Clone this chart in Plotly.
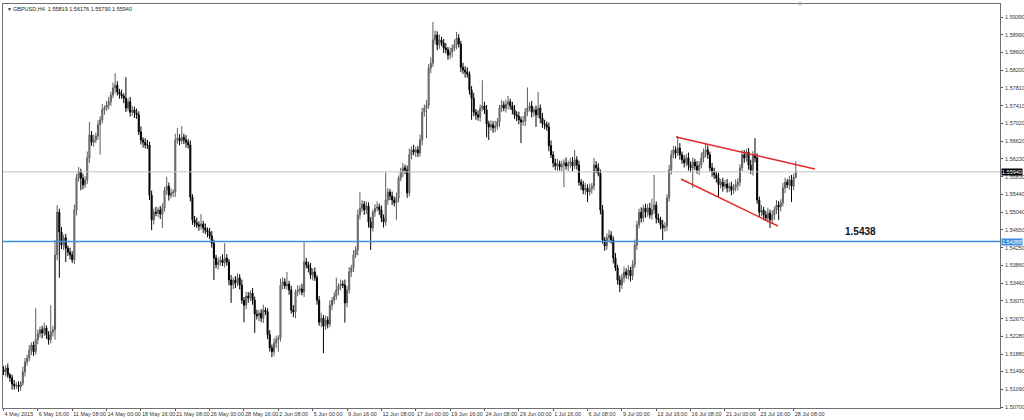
import plotly.graph_objects as go

# ---------------- data (GBPUSD H4) ----------------
first_open = 1.5153
close = [
 1.5148, 1.5157, 1.5141, 1.5135, 1.5121, 1.5117, 1.5119, 1.5115, 1.5123, 1.5148,
 1.5170, 1.5179, 1.5197, 1.5208, 1.5193, 1.5220, 1.5233, 1.5242, 1.5235, 1.5246,
 1.5231, 1.5220, 1.5237, 1.5242, 1.5409, 1.5504, 1.5460, 1.5431, 1.5447, 1.5424,
 1.5415, 1.5409, 1.5398, 1.5509, 1.5580, 1.5594, 1.5580, 1.5565, 1.5576, 1.5625,
 1.5676, 1.5660, 1.5665, 1.5674, 1.5699, 1.5710, 1.5732, 1.5736, 1.5743, 1.5750,
 1.5765, 1.5781, 1.5787, 1.5772, 1.5767, 1.5763, 1.5758, 1.5736, 1.5750, 1.5727,
 1.5732, 1.5725, 1.5721, 1.5683, 1.5665, 1.5660, 1.5654, 1.5654, 1.5542, 1.5487,
 1.5504, 1.5502, 1.5509, 1.5500, 1.5513, 1.5553, 1.5562, 1.5542, 1.5547, 1.5549,
 1.5665, 1.5669, 1.5663, 1.5671, 1.5665, 1.5660, 1.5654, 1.5538, 1.5487, 1.5480,
 1.5476, 1.5473, 1.5478, 1.5469, 1.5464, 1.5460, 1.5451, 1.5435, 1.5402, 1.5387,
 1.5393, 1.5398, 1.5391, 1.5402, 1.5393, 1.5353, 1.5342, 1.5353, 1.5346, 1.5358,
 1.5342, 1.5308, 1.5297, 1.5317, 1.5313, 1.5324, 1.5308, 1.5277, 1.5273, 1.5279,
 1.5268, 1.5286, 1.5282, 1.5231, 1.5202, 1.5193, 1.5213, 1.5220, 1.5224, 1.5342,
 1.5349, 1.5340, 1.5344, 1.5331, 1.5286, 1.5282, 1.5326, 1.5331, 1.5333, 1.5326,
 1.5393, 1.5387, 1.5380, 1.5364, 1.5371, 1.5358, 1.5308, 1.5259, 1.5268, 1.5250,
 1.5264, 1.5255, 1.5297, 1.5308, 1.5317, 1.5331, 1.5340, 1.5344, 1.5342, 1.5302,
 1.5331, 1.5371, 1.5380, 1.5409, 1.5420, 1.5498, 1.5513, 1.5522, 1.5509, 1.5518,
 1.5482, 1.5469, 1.5504, 1.5513, 1.5516, 1.5509, 1.5491, 1.5482, 1.5531, 1.5549,
 1.5540, 1.5531, 1.5525, 1.5536, 1.5580, 1.5594, 1.5603, 1.5598, 1.5547, 1.5632,
 1.5643, 1.5638, 1.5643, 1.5636, 1.5665, 1.5727, 1.5736, 1.5743, 1.5825, 1.5836,
 1.5888, 1.5899, 1.5877, 1.5888, 1.5881, 1.5870, 1.5866, 1.5854, 1.5861, 1.5870,
 1.5877, 1.5892, 1.5879, 1.5827, 1.5821, 1.5816, 1.5812, 1.5776, 1.5758, 1.5727,
 1.5721, 1.5716, 1.5736, 1.5741, 1.5732, 1.5701, 1.5694, 1.5699, 1.5692, 1.5696,
 1.5705, 1.5736, 1.5743, 1.5736, 1.5745, 1.5750, 1.5741, 1.5732, 1.5721, 1.5718,
 1.5710, 1.5705, 1.5707, 1.5727, 1.5736, 1.5741, 1.5727, 1.5732, 1.5721, 1.5736,
 1.5714, 1.5701, 1.5699, 1.5694, 1.5652, 1.5632, 1.5614, 1.5607, 1.5612, 1.5605,
 1.5609, 1.5614, 1.5607, 1.5612, 1.5616, 1.5607, 1.5621, 1.5609, 1.5571, 1.5565,
 1.5553, 1.5558, 1.5549, 1.5556, 1.5562, 1.5609, 1.5603, 1.5591, 1.5509, 1.5442,
 1.5429, 1.5447, 1.5453, 1.5442, 1.5402, 1.5380, 1.5353, 1.5342, 1.5358, 1.5371,
 1.5364, 1.5375, 1.5362, 1.5387, 1.5431, 1.5476, 1.5504, 1.5491, 1.5513, 1.5504,
 1.5513, 1.5498, 1.5509, 1.5520, 1.5491, 1.5487, 1.5476, 1.5469, 1.5473, 1.5536,
 1.5598, 1.5632, 1.5643, 1.5636, 1.5647, 1.5632, 1.5621, 1.5614, 1.5625, 1.5609,
 1.5603, 1.5616, 1.5607, 1.5598, 1.5609, 1.5625, 1.5638, 1.5643, 1.5632, 1.5603,
 1.5594, 1.5587, 1.5580, 1.5565, 1.5571, 1.5562, 1.5567, 1.5558, 1.5562, 1.5553,
 1.5560, 1.5565, 1.5571, 1.5603, 1.5632, 1.5625, 1.5638, 1.5609, 1.5598, 1.5632,
 1.5625, 1.5531, 1.5504, 1.5509, 1.5498, 1.5491, 1.5502, 1.5487, 1.5498, 1.5509,
 1.5520, 1.5516, 1.5525, 1.5558, 1.5571, 1.5565, 1.5576, 1.5562, 1.55819, 1.55940,
]
# upper / lower shadows, in pips
upper_wick = [
 8, 6, 10, 5, 7, 9, 6, 8, 5, 12,
 9, 7, 11, 6, 8, 70, 10, 7, 9, 12,
 6, 8, 60, 9, 33, 16, 8, 11, 7, 9,
 6, 10, 8, 12, 9, 11, 7, 10, 8, 14,
 29, 9, 12, 7, 10, 8, 13, 6, 9, 11,
 8, 12, 27, 9, 7, 10, 6, 47, 8, 11,
 9, 7, 10, 8, 12, 6, 9, 11, 7, 10,
 8, 12, 6, 9, 11, 7, 21, 8, 10, 6,
 14, 23, 9, 25, 8, 11, 7, 10, 6, 9,
 12, 8, 22, 7, 10, 6, 9, 11, 8, 7,
 10, 8, 12, 33, 9, 7, 11, 6, 9, 10,
 8, 12, 7, 10, 9, 6, 11, 8, 10, 7,
 9, 12, 6, 8, 10, 7, 11, 9, 6, 14,
 10, 8, 27, 7, 9, 11, 6, 10, 8, 12,
 44, 9, 7, 11, 8, 10, 6, 9, 12, 7,
 10, 8, 11, 7, 9, 27, 6, 10, 8, 12,
 9, 11, 7, 10, 8, 12, 36, 9, 7, 10,
 8, 11, 6, 9, 12, 7, 10, 8, 63, 9,
 7, 10, 8, 12, 6, 9, 11, 7, 10, 14,
 8, 11, 7, 9, 12, 10, 8, 11, 9, 13,
 40, 10, 8, 12, 7, 9, 11, 6, 10, 8,
 12, 14, 9, 7, 10, 8, 11, 6, 9, 12,
 7, 10, 8, 57, 9, 11, 7, 10, 8, 12,
 9, 7, 11, 8, 10, 13, 7, 9, 11, 8,
 10, 7, 12, 9, 46, 8, 11, 7, 10, 36,
 8, 11, 9, 7, 10, 12, 8, 9, 11, 7,
 10, 8, 12, 7, 9, 11, 22, 8, 10, 7,
 9, 11, 8, 12, 7, 16, 9, 10, 8, 11,
 7, 10, 12, 9, 8, 11, 7, 10, 9, 12,
 8, 11, 7, 10, 12, 9, 8, 11, 7, 10,
 9, 12, 25, 67, 8, 10, 7, 11, 9, 8,
 12, 10, 9, 8, 27, 11, 7, 10, 9, 12,
 8, 10, 7, 11, 9, 12, 8, 15, 10, 7,
 11, 9, 8, 12, 7, 10, 9, 11, 8, 10,
 7, 12, 9, 8, 11, 10, 7, 9, 12, 8,
 37, 10, 8, 11, 7, 9, 12, 8, 10, 7,
 11, 9, 8, 12, 10, 7, 9, 11, 8, 23.6,
]
lower_wick = [
 7, 10, 6, 9, 12, 8, 7, 11, 9, 6,
 10, 8, 7, 11, 9, 6, 10, 8, 12, 7,
 9, 11, 8, 10, 22, 12, 102, 9, 11, 31,
 8, 10, 7, 9, 12, 8, 27, 10, 7, 9,
 11, 8, 10, 7, 9, 67, 8, 11, 6, 10,
 9, 7, 12, 8, 10, 6, 11, 9, 7, 10,
 8, 11, 9, 7, 10, 12, 8, 9, 11, 23,
 10, 7, 9, 11, 31, 8, 10, 12, 7, 9,
 11, 8, 10, 7, 9, 12, 8, 10, 11, 9,
 7, 10, 8, 11, 9, 12, 7, 10, 49, 8,
 11, 9, 7, 10, 8, 12, 40, 9, 11, 7,
 10, 8, 38, 9, 11, 7, 10, 42, 8, 12,
 9, 11, 7, 10, 8, 12, 9, 11, 27, 8,
 10, 7, 9, 11, 8, 12, 14, 9, 10, 7,
 11, 8, 10, 9, 12, 7, 10, 8, 11, 60,
 8, 10, 7, 11, 9, 8, 12, 10, 7, 44,
 10, 8, 11, 9, 7, 12, 10, 8, 11, 9,
 12, 49, 8, 10, 7, 11, 9, 12, 8, 10,
 9, 11, 8, 38, 10, 7, 12, 9, 11, 8,
 10, 7, 11, 9, 8, 12, 10, 67, 9, 11,
 8, 10, 12, 9, 7, 11, 8, 10, 9, 12,
 7, 10, 8, 11, 9, 12, 8, 10, 48, 9,
 11, 8, 10, 7, 9, 30, 29, 8, 11, 10,
 8, 11, 9, 7, 10, 12, 8, 10, 9, 11,
 10, 47, 8, 11, 9, 7, 12, 10, 27, 8,
 11, 9, 10, 8, 12, 7, 10, 9, 11, 8,
 10, 49, 8, 11, 9, 12, 7, 10, 8, 11,
 9, 10, 22, 8, 11, 9, 12, 7, 10, 8,
 11, 9, 10, 8, 12, 7, 10, 16, 9, 11,
 8, 10, 12, 9, 7, 11, 8, 10, 9, 12,
 10, 8, 11, 9, 12, 7, 10, 27, 8, 11,
 9, 10, 8, 12, 7, 11, 9, 10, 8, 12,
 10, 45, 9, 8, 11, 7, 10, 12, 9, 8,
 11, 9, 10, 27, 8, 12, 7, 10, 9, 11,
 8, 10, 12, 9, 7, 11, 8, 10, 9, 12,
 10, 8, 11, 9, 12, 7, 10, 18, 8, 11,
 9, 29, 10, 8, 12, 7, 11, 35, 9, 2.9,
]

time_labels = ["4 May 2015", "6 May 16:00", "11 May 08:00", "14 May 00:00",
               "18 May 16:00", "21 May 08:00", "26 May 00:00", "28 May 16:00",
               "2 Jun 08:00", "5 Jun 00:00", "9 Jun 16:00", "12 Jun 08:00",
               "17 Jun 00:00", "19 Jun 16:00", "24 Jun 08:00", "29 Jun 00:00",
               "1 Jul 16:00", "6 Jul 08:00", "9 Jul 00:00", "13 Jul 16:00",
               "16 Jul 08:00", "21 Jul 00:00", "23 Jul 16:00", "28 Jul 08:00"]
bars_per_label = 16

price_ticks = [1.59390, 1.58990, 1.58600, 1.58200, 1.57810, 1.57410, 1.57020,
               1.56620, 1.56230, 1.55830, 1.55440, 1.55040, 1.54650, 1.54250,
               1.53860, 1.53460, 1.53070, 1.52670, 1.52280, 1.51880, 1.51490,
               1.51090, 1.50700]

support_level = 1.54388
support_text = "1.5438"
last_price = 1.55940
upper_trend_x = [313.2, 377.9]
upper_trend_y = [1.56716, 1.56003]
lower_trend_x = [315.5, 360.7]
lower_trend_y = [1.55780, 1.54733]
title_text = "GBPUSD,H4  1.55819 1.56176 1.55790 1.55940"

# ---------------- build OHLC ----------------
n = len(close)
opens = [first_open] + close[:-1]
highs = [max(o, c) + u / 10000 for o, c, u in zip(opens, close, upper_wick)]
lows = [min(o, c) - d / 10000 for o, c, d in zip(opens, close, lower_wick)]
idx = list(range(n))

FONT = "Liberation Sans"
SMALL = 5.5

fig = go.Figure()
fig.add_trace(go.Candlestick(
    x=idx, open=opens, high=highs, low=lows, close=close,
    increasing=dict(line=dict(color="#5e5e5e", width=1), fillcolor="#a0a0a0"),
    decreasing=dict(line=dict(color="#000000", width=1), fillcolor="#000000"),
    whiskerwidth=0, showlegend=False, hoverinfo="skip",
))

shapes = [
    dict(type="line", xref="paper", x0=0, x1=1, yref="y", y0=last_price, y1=last_price,
         line=dict(color="#c4c4c4", width=1)),
    dict(type="line", xref="paper", x0=0, x1=1, yref="y", y0=support_level, y1=support_level,
         line=dict(color="#3d8ee0", width=1.6)),
    dict(type="line", xref="x", yref="y", x0=upper_trend_x[0], x1=upper_trend_x[1],
         y0=upper_trend_y[0], y1=upper_trend_y[1], line=dict(color="#e3282b", width=1.5)),
    dict(type="line", xref="x", yref="y", x0=lower_trend_x[0], x1=lower_trend_x[1],
         y0=lower_trend_y[0], y1=lower_trend_y[1], line=dict(color="#e3282b", width=1.5)),
]

annotations = [
    dict(text=title_text, xref="paper", yref="paper", x=0.008, y=0.987,
         xanchor="left", yanchor="middle", showarrow=False,
         font=dict(family=FONT, size=SMALL, color="#222222")),
    dict(text="▼", xref="paper", yref="paper", x=0.002, y=0.987,
         xanchor="left", yanchor="middle", showarrow=False,
         font=dict(family=FONT, size=5, color="#222222")),
    dict(text="▼", xref="paper", yref="paper", x=0.799, y=1.0,
         xanchor="center", yanchor="middle", showarrow=False,
         font=dict(family=FONT, size=6, color="#a0a0a0")),
    dict(text="<b>" + support_text + "</b>", xref="x", yref="y", x=399, y=support_level,
         xanchor="center", yanchor="bottom", yshift=3, showarrow=False,
         font=dict(family=FONT, size=10, color="#111111")),
    dict(text=f"{last_price:.5f}", xref="paper", yref="y", x=1, y=last_price,
         xanchor="left", yanchor="middle", xshift=1, showarrow=False,
         bgcolor="#000000", borderpad=0,
         font=dict(family=FONT, size=SMALL, color="#ffffff")),
    dict(text=f"{support_level:.5f}", xref="paper", yref="y", x=1, y=support_level,
         xanchor="left", yanchor="middle", xshift=1, showarrow=False,
         bgcolor="#3d8ee0", borderpad=0,
         font=dict(family=FONT, size=SMALL, color="#ffffff")),
]

fig.update_layout(
    width=1024, height=420,
    margin=dict(l=3, r=24, t=4, b=12, autoexpand=False),
    paper_bgcolor="white", plot_bgcolor="white",
    shapes=shapes, annotations=annotations,
    showlegend=False,
    xaxis=dict(
        range=[-0.233, 464.1], rangeslider=dict(visible=False),
        tickvals=[i * bars_per_label for i in range(len(time_labels))],
        ticktext=time_labels, ticks="outside", ticklen=2, tickcolor="#555555",
        ticklabelposition="outside right", tickangle=0, automargin=False,
        ticklabelstandoff=0,
        tickfont=dict(family=FONT, size=SMALL, color="#333333"),
        showgrid=False, zeroline=False, showline=True, linecolor="#707070",
        linewidth=1, mirror=True,
    ),
    yaxis=dict(
        range=[1.50678, 1.59680], side="right", automargin=False,
        tickvals=price_ticks, ticktext=[f"{v:.5f}" for v in price_ticks],
        ticks="outside", ticklen=2, tickcolor="#555555", ticklabelstandoff=1,
        tickfont=dict(family=FONT, size=SMALL, color="#333333"),
        showgrid=False, zeroline=False, showline=True, linecolor="#707070",
        linewidth=1, mirror=True,
    ),
)

fig.write_html(
    "out.html",
    config={"displayModeBar": False},
    post_script="document.body.style.margin='0';document.body.style.overflow='hidden';",
)
